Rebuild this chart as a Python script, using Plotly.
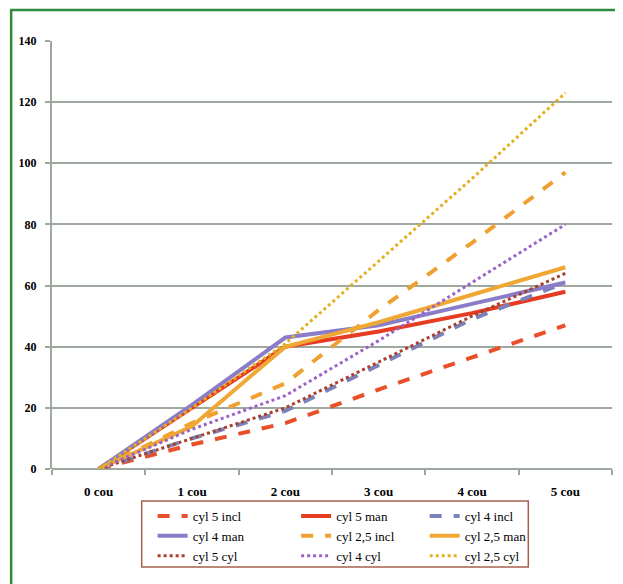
import plotly.graph_objects as go

categories = ["0 cou", "1 cou", "2 cou", "3 cou", "4 cou", "5 cou"]

cyl5_incl = [0, 8, 15, 26, 36.5, 47]
cyl5_man = [0, 20, 40, 45, 51, 58]
cyl4_incl = [0, 10, 19, 34, 49, 61]
cyl4_man = [0, 21, 43, 47, 54, 61]
cyl25_incl = [0, 15, 28, 52, 74, 97]
cyl25_man = [0, 14, 40, 48, 57, 66]
cyl5_cyl = [0, 10, 20, 35, 50, 64]
cyl4_cyl = [0, 13, 24, 42, 61, 80]
cyl25_cyl = [0, 20, 41, 68, 95, 123]

y_ticks = [0, 20, 40, 60, 80, 100, 120, 140]

# name, values, colour, dash, width, legend column
series = [
    ("cyl 5 incl", cyl5_incl, "#e8502a", "dash", 4, "legend"),
    ("cyl 5 man", cyl5_man, "#e63c22", "solid", 4, "legend2"),
    ("cyl 4 incl", cyl4_incl, "#7a82b8", "dash", 4, "legend3"),
    ("cyl 4 man", cyl4_man, "#8a7cc6", "solid", 4, "legend"),
    ("cyl 2,5 incl", cyl25_incl, "#f0a030", "dash", 4, "legend2"),
    ("cyl 2,5 man", cyl25_man, "#f0a835", "solid", 4, "legend3"),
    ("cyl 5 cyl", cyl5_cyl, "#a8402c", "dot", 3, "legend"),
    ("cyl 4 cyl", cyl4_cyl, "#9a64c8", "dot", 3, "legend2"),
    ("cyl 2,5 cyl", cyl25_cyl, "#e2b020", "dot", 3, "legend3"),
]

SERIF = "Liberation Serif, Times New Roman, serif"

fig = go.Figure()
for name, vals, color, dash, w, leg in series:
    fig.add_trace(go.Scatter(
        x=categories, y=vals, name=name, mode="lines", legend=leg,
        line=dict(color=color, dash=dash, width=w),
    ))

OFF = 8  # page body margin
W, H = 623 - OFF, 584 - OFF
L, T = 50 - OFF, 41 - OFF
R = W - (612 - OFF)
B = H - (469 - OFF)
pw, ph = W - L - R, H - T - B


def px2paper_x(px):
    return (px - OFF - L) / pw


def px2paper_y(py):
    return (H - B - (py - OFF)) / ph


def leg(xpx):
    return dict(
        orientation="v",
        x=px2paper_x(xpx), xanchor="left",
        y=px2paper_y(501), yanchor="top",
        bgcolor="rgba(255,255,255,0)", borderwidth=0,
        font=dict(family=SERIF, size=13, color="black"),
        tracegroupgap=0,
    )


fig.update_layout(
    width=W, height=H,
    margin=dict(l=L, r=R, t=T, b=B, pad=0),
    paper_bgcolor="white", plot_bgcolor="white",
    font=dict(family=SERIF, color="black", size=12),
    showlegend=True,
    legend=leg(151),
    legend2=leg(295),
    legend3=leg(424),
    xaxis=dict(
        type="category", range=[-0.5, 5.5],
        showgrid=False, showline=False,
        ticks="outside", tickson="boundaries", ticklen=5,
        tickcolor="#9aa59a", tickwidth=1.5,
        ticklabelstandoff=13,
        tickfont=dict(family=SERIF, size=13, weight="bold"),
        zeroline=False, fixedrange=True,
    ),
    yaxis=dict(
        range=[0, 140], tickvals=y_ticks,
        showgrid=True, gridcolor="#9ea89e", gridwidth=2,
        showline=True, linecolor="#9ea89e", linewidth=2,
        ticks="outside", ticklen=5, tickcolor="#9ea89e", tickwidth=2,
        ticklabelstandoff=6,
        tickfont=dict(family=SERIF, size=12, weight="bold"),
        zeroline=False, fixedrange=True,
    ),
    shapes=[
        dict(type="line", xref="paper", yref="paper",
             x0=px2paper_x(8), x1=px2paper_x(640), y0=px2paper_y(10), y1=px2paper_y(10),
             line=dict(color="#2e8b3e", width=2.5)),
        dict(type="line", xref="paper", yref="paper",
             x0=px2paper_x(9), x1=px2paper_x(9), y0=px2paper_y(10), y1=px2paper_y(600),
             line=dict(color="#2e8b3e", width=2.5)),
        dict(type="line", xref="paper", yref="paper",
             x0=0, x1=1, y0=0, y1=0,
             line=dict(color="#9ea89e", width=2), layer="below"),
        dict(type="rect", xref="paper", yref="paper",
             x0=px2paper_x(140), x1=px2paper_x(528),
             y0=px2paper_y(501), y1=px2paper_y(567),
             line=dict(color="#a8604c", width=1.5)),
    ],
)

fig.write_html("out.html")
